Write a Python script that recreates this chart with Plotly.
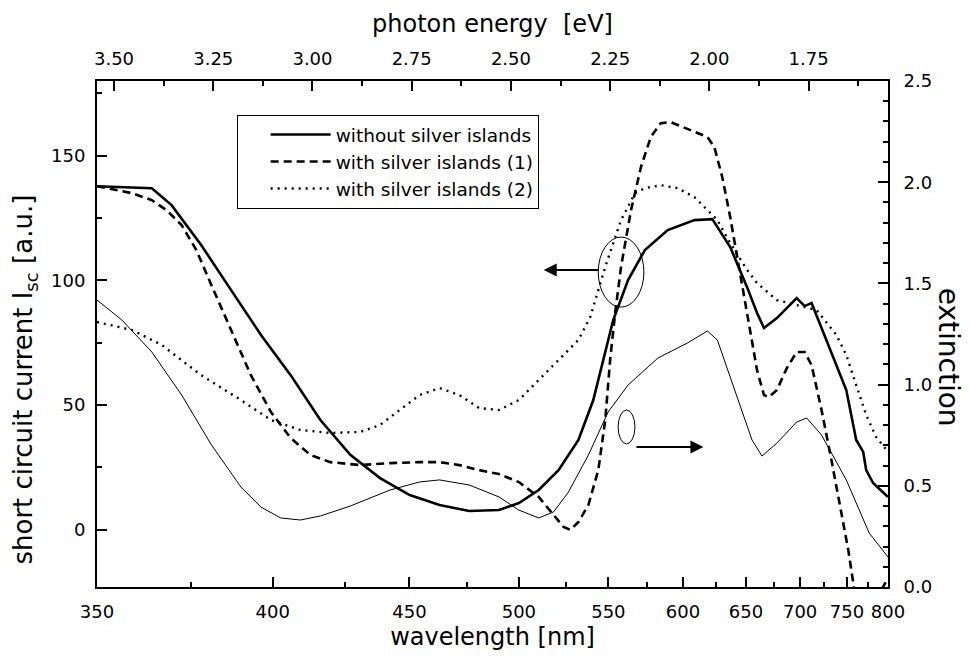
import numpy as np
import plotly.graph_objects as go

HC = 1240.0  # eV*nm

# ---- data (wavelength in nm) ----
wl_solid = [350, 364.2, 369.6, 378.0, 386.9, 396.2, 405.9, 416.1, 426.9, 438.2, 450.1, 462.7,
            476.0, 490.1, 500, 510.3, 521.0, 532.2, 540.9, 546.9, 553.0, 562.4, 573.4, 589.1,
            608.6, 622.3, 636.7, 650.9, 659.6, 665.8, 677.6, 696.6, 704.5, 711.6, 727.3,
            749.2, 760.7, 769.0, 772.6, 781.1, 800]
isc_solid = [137.8, 137.0, 130.2, 114.2, 96.1, 78.1, 62.0, 44.0, 30.0, 20.7, 13.9, 9.9,
             7.5, 7.9, 10.7, 15.9, 23.9, 36.0, 52.0, 68.1, 84.1, 100.1, 112.2, 120.2,
             124.2, 124.6, 113.4, 97.3, 86.9, 80.9, 84.9, 92.9, 89.7, 90.9, 76.1,
             56.0, 36.0, 31.2, 23.9, 18.7, 13.1]

wl_dash = [350, 358.9, 364.2, 368.2, 372.4, 376.6, 381.0, 386.9, 393.0, 399.4, 405.9, 412.6,
           419.6, 430.6, 442.1, 454.2, 462.7, 471.5, 480.6, 490.1, 500, 510.3, 518.3, 523.8,
           527.7, 532.2, 538.0, 543.9, 548.1, 551.1, 554.2, 557.9, 564.3, 570.8, 577.4,
           584.2, 591.2, 605.6, 618.5, 623.9, 630.2, 636.7, 642.5, 650.9, 659.6, 665.8,
           670.3, 677.6, 687.0, 696.6, 704.5, 711.6, 722.0, 732.6, 743.6, 751.5, 758.5,
           784.8, 800]
isc_dash = [137.8, 135.0, 132.2, 128.2, 122.2, 112.2, 98.1, 80.1, 62.0, 47.2, 36.8, 30.0,
            27.1, 25.9, 26.7, 27.1, 27.1, 25.9, 23.9, 22.3, 19.1, 13.1, 5.9, 1.1,
            -0.1, 3.1, 9.9, 23.9, 44.0, 68.1, 86.9, 105.4, 128.2, 145.5, 157.5,
            163.1, 163.5, 160.3, 157.5, 153.5, 141.5, 125.4, 109.4, 86.9, 64.0, 54.0,
            53.2, 56.0, 64.8, 71.3, 71.3, 66.0, 48.0, 28.0, 5.9, -8.2, -24.2,
            -28.0, -19.4]

wl_dot = [350, 358.9, 366.9, 378.0, 389.9, 399.4, 409.2, 419.6, 430.6, 438.2, 446.0, 454.2,
          462.7, 471.5, 480.6, 490.1, 500, 510.3, 521.0, 532.2, 539.1, 548.1, 557.9, 566.9,
          573.4, 584.2, 596.2, 608.6, 618.5, 626.3, 636.7, 650.9, 659.6, 677.6, 696.6,
          716.8, 738.1, 749.2, 760.7, 772.6, 784.8, 800]
isc_dot = [83.3, 80.1, 74.1, 62.0, 52.0, 44.0, 40.0, 38.8, 39.2, 42.0, 48.0, 54.0,
           56.8, 54.0, 48.8, 48.0, 52.0, 60.0, 68.1, 76.1, 85.3, 105.4, 124.2, 135.0,
           137.0, 138.2, 137.0, 133.4, 128.2, 124.2, 115.0, 104.2, 98.9, 92.1, 90.1,
           88.1, 78.1, 70.1, 58.0, 46.0, 37.2, 31.2]

wl_ext = [350, 356.3, 364.2, 372.4, 381.0, 389.9, 396.2, 402.6, 409.2, 416.1, 426.9, 442.1,
          454.2, 462.7, 476.0, 490.1, 500, 510.3, 518.3, 526.5, 538.0, 549.9, 562.4, 582.2,
          603.4, 618.5, 626.3, 642.5, 655.2, 664.0, 677.6, 696.6, 706.6, 722.0, 749.2,
          776.2, 800]
extinction = [1.418, 1.319, 1.161, 0.949, 0.702, 0.494, 0.395, 0.341, 0.331, 0.351, 0.400, 0.479,
              0.519, 0.529, 0.504, 0.445, 0.380, 0.341, 0.371, 0.469, 0.652, 0.865, 0.998, 1.131,
              1.206, 1.265, 1.220, 0.934, 0.726, 0.647, 0.711, 0.815, 0.835, 0.751, 0.529,
              0.267, 0.148]

wl_ticks = [350, 400, 450, 500, 550, 600, 650, 700, 750, 800]
wl_minor = [375, 425, 475, 525, 575, 625, 675, 725, 775]
ev_ticks = [3.50, 3.25, 3.00, 2.75, 2.50, 2.25, 2.00, 1.75]
ev_minor = [3.375, 3.125, 2.875, 2.625, 2.375, 2.125, 1.875, 1.625]
isc_ticks = [0, 50, 100, 150]
isc_minor = [25, 75, 125, 175]
ext_ticks = [0.0, 0.5, 1.0, 1.5, 2.0, 2.5]
ext_minor = [round(0.1 * i, 1) for i in range(26) if i % 5 != 0]


def ev(wl):
    return HC / np.asarray(wl, dtype=float)


FONT = "DejaVu Sans, Liberation Sans, Arial, sans-serif"
X_RANGE = [HC / 350.0, HC / 800.0]

fig = go.Figure()
fig.add_trace(go.Scatter(x=ev(wl_solid), y=isc_solid, mode="lines", name="without silver islands",
                         line=dict(color="black", width=2.6)))
fig.add_trace(go.Scatter(x=ev(wl_dash), y=isc_dash, mode="lines", name="with silver islands (1)",
                         line=dict(color="black", width=2.6, dash="8px,5px")))
fig.add_trace(go.Scatter(x=ev(wl_dot), y=isc_dot, mode="lines", name="with silver islands (2)",
                         line=dict(color="black", width=2.4, dash="2px,5px")))
fig.add_trace(go.Scatter(x=ev(wl_ext), y=extinction, mode="lines", yaxis="y2", showlegend=False,
                         line=dict(color="black", width=1)))
# carrier for the top (photon energy) axis
fig.add_trace(go.Scatter(x=[ev_ticks[0]], y=[0], xaxis="x2", mode="markers", showlegend=False,
                         marker=dict(opacity=0), hoverinfo="skip"))

axis_common = dict(showgrid=False, zeroline=False, showline=True, linecolor="black", linewidth=2,
                   ticks="inside", ticklen=10, tickwidth=1.5, tickcolor="black",
                   tickfont=dict(family=FONT, size=18, color="black"))

# the page body adds an 8px offset; the figure fills the rest of the 970x663 window
fig.update_layout(
    width=962, height=655,
    margin=dict(l=89, r=82, t=73, b=76),
    paper_bgcolor="white", plot_bgcolor="white",
    font=dict(family=FONT, color="black"),
    xaxis=dict(range=X_RANGE, tickmode="array", tickvals=list(ev(wl_ticks)),
               ticktext=[str(w) for w in wl_ticks], ticklabelstandoff=7,
               minor=dict(tickmode="array", tickvals=list(ev(wl_minor)), ticks="inside",
                          ticklen=5, tickwidth=1.5, tickcolor="black"),
               title=dict(text="wavelength [nm]", font=dict(family=FONT, size=24), standoff=8),
               **axis_common),
    xaxis2=dict(range=X_RANGE, overlaying="x", side="top", anchor="y", tickmode="array",
                tickvals=ev_ticks, ticktext=[f"{v:.2f}" for v in ev_ticks], ticklabelstandoff=7,
                minor=dict(tickmode="array", tickvals=ev_minor, ticks="inside",
                           ticklen=5, tickwidth=1.5, tickcolor="black"),
                title=dict(text="photon energy\u00a0 [eV]", font=dict(family=FONT, size=24), standoff=8),
                **axis_common),
    yaxis=dict(range=[-23, 180], tickmode="array", tickvals=isc_ticks,
               ticktext=[str(v) for v in isc_ticks], ticklabelstandoff=6,
               minor=dict(tickmode="array", tickvals=isc_minor, ticks="inside",
                          ticklen=5, tickwidth=1.5, tickcolor="black"),
               **axis_common),
    yaxis2=dict(range=[0, 2.5], overlaying="y", side="right", anchor="x", tickmode="array",
                tickvals=ext_ticks, ticktext=[f"{v:.1f}" for v in ext_ticks], ticklabelstandoff=10,
                minor=dict(tickmode="array", tickvals=ext_minor, ticks="inside",
                           ticklen=5, tickwidth=1.5, tickcolor="black"),
                **axis_common),
    legend=dict(x=0.177, y=0.933, xanchor="left", yanchor="top", bgcolor="white",
                bordercolor="black", borderwidth=1, itemwidth=60,
                title=dict(text="\u00a0\u00a0\u00a0", side="left", font=dict(family=FONT, size=18.5)),
                font=dict(family=FONT, size=18.5, color="black")),
    showlegend=True,
)

# left-hand axis title (reads bottom to top)
fig.add_annotation(text="short circuit current I<sub>sc</sub> [a.u.]", xref="paper", yref="paper",
                   x=0.0, y=0.41, xshift=-72, xanchor="center", yanchor="middle",
                   showarrow=False, textangle=-90,
                   font=dict(family=FONT, size=26, color="black"))
# right-hand axis title (reads top to bottom)
fig.add_annotation(text="extinction", xref="paper", yref="paper", x=1.0, y=0.455,
                   xshift=60, xanchor="center", yanchor="middle",
                   showarrow=False, textangle=90,
                   font=dict(family=FONT, size=28, color="black"))

# ellipses marking which curves belong to which axis
fig.add_shape(type="circle", xref="x", yref="y", x0=2.28, x1=2.165, y0=89.3, y1=117.4,
              line=dict(color="black", width=1))
fig.add_shape(type="circle", xref="x", yref="y", x0=2.23, x1=2.1875, y0=34.4, y1=48.0,
              line=dict(color="black", width=1))
# arrows
fig.add_annotation(x=2.4175, y=104.2, ax=2.275, ay=104.2, xref="x", yref="y", axref="x", ayref="y",
                   text="", showarrow=True, arrowhead=2, arrowsize=1.3, arrowwidth=2, arrowcolor="black")
fig.add_annotation(x=2.015, y=33.2, ax=2.1875, ay=33.2, xref="x", yref="y", axref="x", ayref="y",
                   text="", showarrow=True, arrowhead=2, arrowsize=1.3, arrowwidth=2, arrowcolor="black")

fig.write_html("out.html")
